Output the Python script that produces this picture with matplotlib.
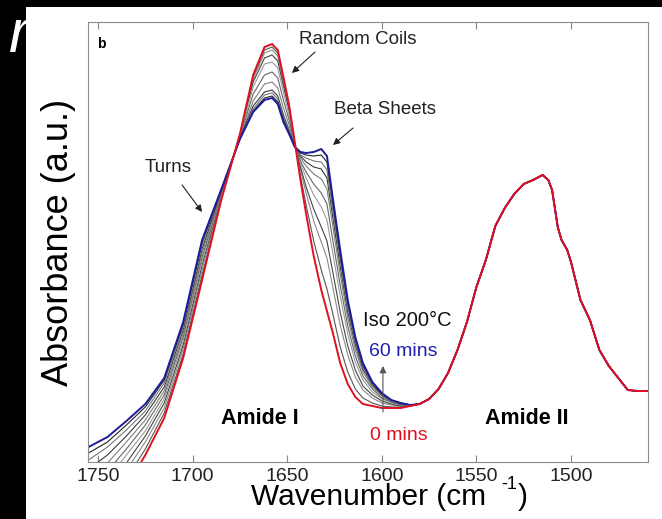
import numpy as np
import matplotlib
matplotlib.use('Agg')
import matplotlib.pyplot as plt
from matplotlib.patches import Rectangle

plt.rcParams['font.family'] = ['Liberation Sans', 'DejaVu Sans']

# wavenumber grid, amide I part (cm-1)
wn1 = [1755, 1745, 1735, 1725, 1715, 1705, 1695, 1685, 1675, 1668, 1662, 1658, 1655, 1652, 1649,
       1646, 1643, 1640, 1636, 1632, 1629, 1626, 1622, 1618, 1614, 1610, 1605, 1600, 1595, 1590, 1585]
# amide II part, all spectra overlap here
wn2 = [1580, 1575, 1570, 1565, 1560, 1555, 1550, 1545, 1540, 1535, 1530, 1525, 1520, 1515, 1512,
       1510, 1507, 1505, 1502, 1500, 1495, 1490, 1485, 1480, 1475, 1470, 1465, 1460, 1455]
amide2 = [58, 63, 73, 89, 112, 140, 175, 202, 236, 254, 268, 278, 282, 287, 282,
          272, 235, 222, 212, 200, 162, 142, 112, 96, 84, 72, 71, 71, 71]

# absorbance (a.u.) in amide I, 0 min -> 60 min
red1 = [-85, -55, -25, 7, 44, 104, 182, 261, 328, 387, 415, 418, 412, 385, 357,
        320, 282, 248, 206, 172, 151, 130, 99, 78, 65, 58, 56, 54, 54, 54, 56]
g1 = [-73, -45, -17, 13, 49, 108, 187, 262, 328, 385, 412, 415, 409, 382, 355,
      319, 286, 257, 221, 192, 173, 149, 115, 90, 73, 64, 59, 56, 55, 55, 56]
g2 = [-60, -35, -8, 20, 54, 113, 192, 264, 327, 383, 409, 412, 406, 380, 354,
      318, 292, 269, 241, 220, 204, 176, 137, 107, 85, 72, 64, 59, 57, 56, 56]
g3 = [-48, -25, -1, 26, 59, 117, 197, 265, 327, 380, 404, 407, 401, 376, 351,
      318, 295, 275, 253, 235, 221, 191, 150, 116, 92, 76, 67, 61, 58, 56, 56]
g4 = [-37, -17, 7, 31, 63, 121, 201, 266, 326, 375, 398, 400, 394, 370, 347,
      317, 299, 284, 267, 255, 242, 210, 166, 128, 100, 82, 70, 63, 59, 57, 57]
g5 = [-27, -9, 13, 37, 67, 125, 205, 267, 325, 368, 387, 390, 384, 362, 342,
      317, 301, 290, 278, 269, 258, 223, 177, 136, 106, 86, 73, 64, 60, 57, 57]
g6 = [-17, -1, 20, 42, 71, 128, 209, 268, 324, 361, 378, 380, 374, 354, 337,
      316, 304, 296, 288, 283, 273, 237, 188, 144, 112, 90, 75, 66, 60, 58, 57]
g7 = [-7, 7, 26, 47, 75, 132, 213, 270, 324, 356, 370, 372, 366, 347, 332,
      316, 306, 300, 295, 293, 284, 246, 196, 150, 117, 93, 77, 67, 61, 58, 57]
g8 = [2, 15, 32, 51, 79, 135, 217, 271, 323, 353, 367, 369, 363, 344, 331,
      315, 307, 304, 301, 300, 292, 253, 202, 154, 120, 95, 78, 68, 61, 59, 57]
g9 = [9, 20, 37, 55, 82, 138, 220, 271, 323, 351, 364, 366, 360, 342, 329,
      315, 309, 307, 306, 307, 300, 260, 207, 159, 123, 97, 79, 68, 62, 59, 57]
blue1 = [15, 25, 41, 58, 84, 140, 222, 272, 323, 350, 362, 364, 358, 340, 328,
         315, 310, 309, 310, 313, 306, 265, 212, 162, 125, 99, 80, 69, 62, 59, 57]

grays = [g1, g2, g3, g4, g5, g6, g7, g8, g9]
gray_cols = ['#555555', '#8a8a8a', '#444444', '#9a9a9a', '#666666', '#808080', '#3a3a3a', '#777777', '#222222']
xticks = [1750, 1700, 1650, 1600, 1550, 1500]

wn = np.array(wn1 + wn2)
W, H = 662, 519

fig = plt.figure(figsize=(6.62, 5.19), dpi=100, facecolor='black')
fig.text(0.014, 0.900, 'r', color='white', fontsize=44, style='italic', ha='left', va='baseline', zorder=-2)
fig.add_artist(Rectangle((26 / W, 0), 1, 512 / H, facecolor='white', edgecolor='none', zorder=-1))

ax = fig.add_axes([88 / W, 57 / H, 560 / W, 440 / H])
for g, c in zip(grays, gray_cols):
    ax.plot(wn, g + amide2, color=c, lw=0.8)
ax.plot(wn, blue1 + amide2, color='#1c1c9c', lw=1.4)
ax.plot(wn, red1 + amide2, color='#e01020', lw=1.4)

ax.set_xlim(1755.3, 1459.3)
ax.set_ylim(0, 440)
ax.set_xticks(xticks)
ax.set_yticks([])
ax.tick_params(axis='x', direction='in', top=True, length=5, color='#888888',
               labelsize=14, labelcolor='#222222', pad=4)
for s in ax.spines.values():
    s.set_color('#8c8c8c')

ax.set_ylabel('Absorbance (a.u.)', fontsize=26)
ax.yaxis.set_label_coords(-0.022, 0.5)

# x label written in three pieces so the superscript sits between tick labels
r = fig.canvas.get_renderer()
t1 = fig.text(251 / W, (H - 505) / H, 'Wavenumber (cm', fontsize=21.5, ha='left', va='baseline')
x1 = t1.get_window_extent(r).x1
t2 = fig.text(max(x1 + 2, 501) / W, (H - 489) / H, '-1', fontsize=13, ha='left', va='baseline')
x2 = t2.get_window_extent(r).x1
fig.text((x2 + 1) / W, (H - 505) / H, ')', fontsize=21.5, ha='left', va='baseline')

ax.text(1750.5, 414, 'b', fontsize=10, fontweight='bold', ha='left', va='baseline')
ax.text(1612.6, 422, 'Random Coils', fontsize=13.5, ha='center', va='center', color='#222222')
ax.text(1598.3, 352, 'Beta Sheets', fontsize=13.5, ha='center', va='center', color='#222222')
ax.text(1713, 294, 'Turns', fontsize=13.5, ha='center', va='center', color='#222222')
ax.text(1586.7, 141, 'Iso 200°C', fontsize=14.5, ha='center', va='center', color='#111111')
ax.text(1588.8, 110, '60 mins', fontsize=14, ha='center', va='center', color='#2020b0')
ax.text(1591, 26, '0 mins', fontsize=14, ha='center', va='center', color='#e01020')
ax.text(1664.4, 44, 'Amide I', fontsize=15.5, fontweight='bold', ha='center', va='center')
ax.text(1523.3, 44, 'Amide II', fontsize=15.5, fontweight='bold', ha='center', va='center')

arr = dict(arrowstyle='-|>', color='#222222', lw=0.8, mutation_scale=10, shrinkA=0, shrinkB=0)
ax.annotate('', xy=(1647.5, 389), xytext=(1635.3, 410), arrowprops=arr)
ax.annotate('', xy=(1625.8, 317), xytext=(1615.2, 334), arrowprops=arr)
ax.annotate('', xy=(1695, 250), xytext=(1705.6, 277), arrowprops=arr)
ax.annotate('', xy=(1599.4, 96), xytext=(1599.4, 50),
            arrowprops=dict(arrowstyle='-|>', color='#555555', lw=0.8, mutation_scale=10, shrinkA=0, shrinkB=0))

fig.savefig('out.png', dpi=100, facecolor='black')
